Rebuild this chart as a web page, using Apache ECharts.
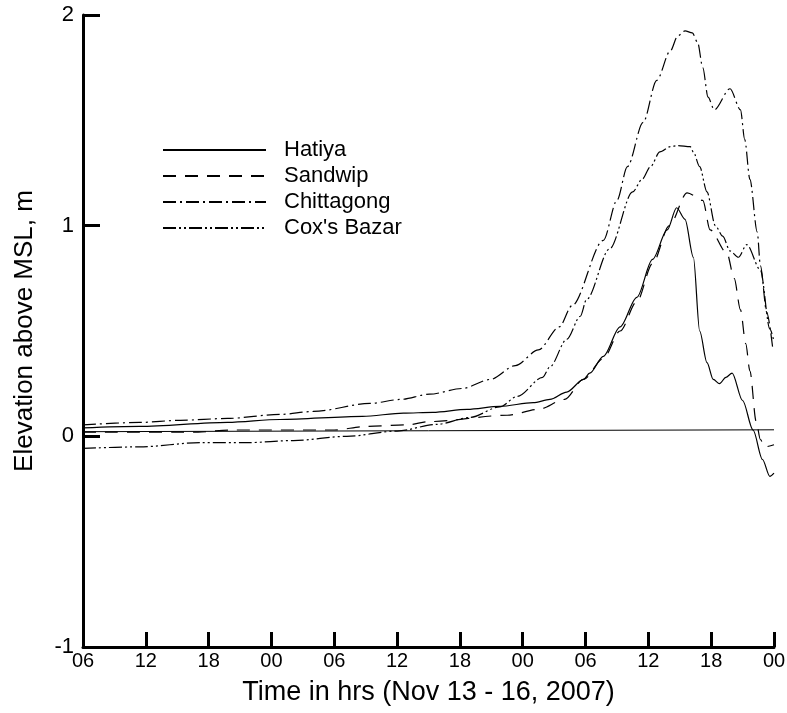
<!DOCTYPE html>
<html>
<head>
<meta charset="utf-8">
<script src="https://cdn.jsdelivr.net/npm/echarts@6/dist/echarts.min.js"></script>
<style>
  html, body { margin: 0; padding: 0; background: #fff; }
  #chart { width: 787px; height: 713px; }
</style>
</head>
<body>
<div id="chart"></div>
<script>
// hours since 06:00 Nov 13, water level in m above MSL
const xTickLabels = ['06', '12', '18', '00', '06', '12', '18', '00', '06', '12', '18', '00']

const hatiya = [
  [0, 0.04], [5.4, 0.047], [13.8, 0.066], [18.8, 0.08], [26.7, 0.095], [30.6, 0.11],
  [33.4, 0.114], [36.7, 0.128], [39.8, 0.142], [43.0, 0.16], [44.6, 0.175], [46.2, 0.21],
  [47.8, 0.27], [48.4, 0.3], [49.7, 0.38], [51.3, 0.52], [52.9, 0.66], [54.4, 0.84],
  [55.8, 0.98], [56.7, 1.085], [57.5, 1.03], [58.3, 0.85], [58.9, 0.5], [59.6, 0.35],
  [60.2, 0.27], [60.8, 0.25], [61.4, 0.28], [62.0, 0.3], [63.0, 0.17], [64.0, 0.03],
  [64.9, -0.11], [65.6, -0.19], [66, -0.175]
]

const sandwip = [
  [0, 0.02], [11, 0.02], [14, 0.03], [24, 0.03], [27, 0.047], [31, 0.055], [33.1, 0.07],
  [40.5, 0.1], [43.5, 0.128], [46, 0.175], [47.8, 0.27], [49.7, 0.37], [51.3, 0.5],
  [52.9, 0.64], [54.4, 0.82], [56, 1.0], [57.7, 1.156], [59.2, 1.12], [59.9, 0.98],
  [61.5, 0.87], [62.2, 0.75], [62.8, 0.6], [63.3, 0.44], [63.7, 0.31], [64.3, 0.07],
  [64.7, -0.015], [65.1, -0.05], [66, -0.04]
]

const chittagong = [
  [0, 0.054], [5.4, 0.066], [9.3, 0.076], [13.8, 0.085], [18.8, 0.104], [22, 0.118],
  [27.4, 0.156], [30.3, 0.175], [33.1, 0.2], [36.2, 0.227], [38.9, 0.27], [41.3, 0.336],
  [43.5, 0.41], [45.5, 0.52], [46.7, 0.62], [49.7, 0.93], [51.0, 1.12], [52.0, 1.28],
  [53.5, 1.49], [54.8, 1.69], [56.1, 1.83], [56.8, 1.9], [57.5, 1.925], [58.2, 1.915],
  [58.7, 1.87], [59.2, 1.75], [59.7, 1.61], [60.3, 1.55], [61.8, 1.65], [62.8, 1.55],
  [63.2, 1.41], [63.7, 1.22], [64.4, 0.97], [64.7, 0.81], [65.3, 0.59], [65.9, 0.41]
]

const coxsBazar = [
  [0, -0.057], [5.4, -0.05], [11.2, -0.03], [15.7, -0.03], [20.1, -0.02], [25.2, 0],
  [30, 0.025], [33.8, 0.057], [37, 0.09], [39.8, 0.14], [41.5, 0.19], [43.9, 0.28],
  [44.6, 0.33], [46.2, 0.46], [47.5, 0.57], [48.1, 0.65], [50.3, 0.89], [52.5, 1.16],
  [53.4, 1.22], [54.2, 1.28], [55.1, 1.35], [56.1, 1.375], [56.8, 1.38], [58.0, 1.375],
  [58.3, 1.35], [58.9, 1.28], [59.6, 1.16], [60.4, 1.0], [61.1, 0.95], [61.8, 0.88],
  [62.6, 0.85], [63.4, 0.91], [64.7, 0.79], [65.6, 0.51], [66, 0.45]
]

const msl = [[0, 0.022], [66, 0.031]]

const FONT = "'Liberation Sans', Arial, sans-serif"

function curve(name, data, dash) {
  return {
    name,
    type: 'line',
    data,
    symbol: 'none',
    showSymbol: false,
    smooth: 0.3,
    smoothMonotone: 'x',
    lineStyle: { color: '#000', width: 1.2, type: dash },
    z: 3,
  }
}

const chart = echarts.init(document.getElementById('chart'))
chart.setOption({
  animation: false,
  backgroundColor: '#fff',
  grid: { left: 83, right: 13, top: 15, bottom: 66, containLabel: false, outerBoundsMode: 'none' },
  legend: {
    data: ['Hatiya', 'Sandwip', 'Chittagong', "Cox's Bazar"],
    orient: 'vertical',
    left: 162,
    top: 139,
    padding: 0,
    itemWidth: 103,
    itemHeight: 14,
    itemGap: 4,
    itemStyle: { opacity: 0 },
    textStyle: { color: '#000', fontSize: 22, fontFamily: FONT, lineHeight: 22, padding: [0, 0, 0, 13] },
  },
  xAxis: {
    type: 'value',
    min: 0,
    max: 66,
    interval: 6,
    name: 'Time in hrs (Nov 13 - 16, 2007)',
    nameLocation: 'middle',
    nameGap: 32,
    nameTextStyle: { color: '#000', fontSize: 27, fontFamily: FONT },
    axisLine: { onZero: false, lineStyle: { color: '#000', width: 3 } },
    axisTick: { inside: true, length: 15, lineStyle: { color: '#000', width: 3 } },
    axisLabel: {
      color: '#000', fontSize: 20, fontFamily: FONT, margin: 4,
      formatter: (v) => xTickLabels[Math.round(v / 6)],
    },
    splitLine: { show: false },
  },
  yAxis: {
    type: 'value',
    min: -1,
    max: 2,
    interval: 1,
    name: 'Elevation above MSL, m',
    nameLocation: 'middle',
    nameGap: 45,
    nameRotate: 90,
    nameTextStyle: { color: '#000', fontSize: 26, fontFamily: FONT },
    axisLine: { show: true, lineStyle: { color: '#000', width: 3 } },
    axisTick: { show: true, inside: true, length: 17, lineStyle: { color: '#000', width: 3 } },
    axisLabel: { color: '#000', fontSize: 22, fontFamily: FONT, margin: 9 },
    splitLine: { show: false },
  },
  series: [
    {
      name: 'MSL',
      type: 'line',
      data: msl,
      symbol: 'none',
      lineStyle: { color: '#000', width: 1 },
      z: 2,
    },
    curve('Hatiya', hatiya, 'solid'),
    curve('Sandwip', sandwip, [13, 9]),
    curve('Chittagong', chittagong, [13, 4, 2, 4]),
    curve("Cox's Bazar", coxsBazar, [13, 3, 2, 3, 2, 3]),
  ],
})
</script>
</body>
</html>
